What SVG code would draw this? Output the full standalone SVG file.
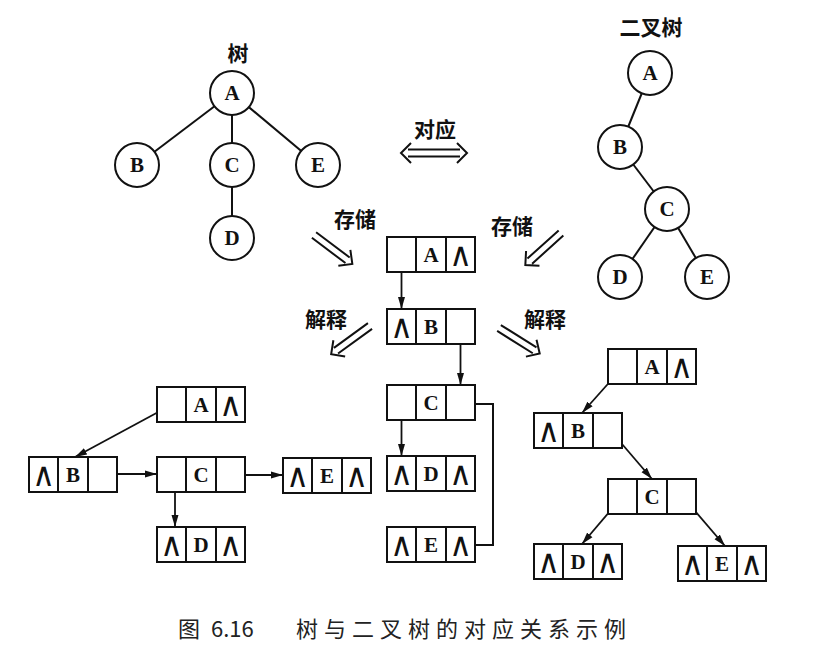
<svg xmlns="http://www.w3.org/2000/svg" width="833" height="651" viewBox="0 0 833 651">
<style>
.circ{fill:#fff;stroke:#111;stroke-width:2}
.edge{stroke:#111;stroke-width:2;fill:none}
.box{fill:#fff;stroke:#111;stroke-width:2}
.div{stroke:#111;stroke-width:2}
.lt{font-family:"Liberation Serif",serif;font-weight:bold;font-size:21px;fill:#111;text-anchor:middle;dominant-baseline:central}
.nil{font-family:"DejaVu Sans",sans-serif;font-size:23px;fill:#111;text-anchor:middle;dominant-baseline:central}
.cn{font-family:"Noto Sans CJK SC",sans-serif;font-weight:bold;font-size:21px;fill:#111;text-anchor:middle}
.cap{font-family:"Noto Sans CJK SC",sans-serif;font-size:22px;fill:#222}
.ptr{stroke:#111;stroke-width:1.8;fill:none;marker-end:url(#ah)}
.dbl{stroke:#111;stroke-width:2;fill:none}
</style>
<defs>
<marker id="ah" viewBox="0 0 12 8" refX="12" refY="4" markerWidth="12" markerHeight="8" markerUnits="userSpaceOnUse" orient="auto">
<path d="M0,0.5 L12,4 L0,7.5 z" fill="#111"/>
</marker>
<g id="darr">
<path class="dbl" d="M0,-3.5 H42 M0,3.5 H42 M38,-10 L48,0 L38,10"/>
</g>
<g id="cells">
<rect class="box" x="0" y="0" width="88" height="35"/>
<line class="div" x1="29" y1="0" x2="29" y2="35"/>
<line class="div" x1="59" y1="0" x2="59" y2="35"/>
</g>
</defs>
<rect width="833" height="651" fill="#fff"/>

<!-- labels -->
<text class="cn" x="238" y="61">树</text>
<text class="cn" x="651" y="35">二叉树</text>
<text class="cn" x="435" y="137">对应</text>
<text class="cn" x="355" y="227">存储</text>
<text class="cn" x="512" y="234">存储</text>
<text class="cn" x="326" y="327">解释</text>
<text class="cn" x="545" y="327">解释</text>

<!-- big double arrows -->
<g id="arrows-big">
<path class="dbl" d="M408,149.5 H460 M408,156.5 H460 M411,143 L401,153 L411,163 M457,143 L467,153 L457,163"/>
<use href="#darr" transform="translate(314,235) rotate(37)"/>
<use href="#darr" transform="translate(561,233) rotate(138)"/>
<use href="#darr" transform="translate(370,326) rotate(144)"/>
<use href="#darr" transform="translate(499,328) rotate(32)"/>
</g>

<!-- tree edges -->
<g id="connectors">
<line class="edge" x1="232" y1="93" x2="137" y2="165"/>
<line class="edge" x1="232" y1="93" x2="232" y2="165"/>
<line class="edge" x1="232" y1="93" x2="318" y2="165"/>
<line class="edge" x1="232" y1="165" x2="232" y2="238"/>
<line class="edge" x1="650" y1="73" x2="620" y2="147"/>
<line class="edge" x1="620" y1="147" x2="667" y2="209"/>
<line class="edge" x1="667" y1="209" x2="620" y2="277"/>
<line class="edge" x1="667" y1="209" x2="707" y2="277"/>
<!-- middle list -->
<line class="ptr" x1="401.5" y1="255" x2="401.5" y2="309"/>
<line class="ptr" x1="460.5" y1="330" x2="460.5" y2="385"/>
<line class="ptr" x1="401.5" y1="405" x2="401.5" y2="456"/>
<path class="edge" d="M465,404 H493 V545 H475"/>
<!-- left list -->
<line class="ptr" x1="175" y1="403" x2="75" y2="457"/>
<line class="ptr" x1="106" y1="474" x2="157" y2="474"/>
<line class="ptr" x1="175" y1="475" x2="175" y2="527"/>
<line class="ptr" x1="233" y1="475" x2="283" y2="475"/>
<!-- right list -->
<line class="ptr" x1="623" y1="367" x2="582" y2="413"/>
<line class="ptr" x1="610" y1="430" x2="652" y2="479"/>
<line class="ptr" x1="622" y1="497" x2="582" y2="544"/>
<line class="ptr" x1="683" y1="497" x2="725" y2="546"/>
</g>

<!-- tree nodes -->
<g id="t-A"><circle class="circ" cx="232" cy="93" r="22"/><text class="lt" x="232" y="93">A</text></g>
<g id="t-B"><circle class="circ" cx="137" cy="165" r="22"/><text class="lt" x="137" y="165">B</text></g>
<g id="t-C"><circle class="circ" cx="232" cy="165" r="22"/><text class="lt" x="232" y="165">C</text></g>
<g id="t-E"><circle class="circ" cx="318" cy="165" r="22"/><text class="lt" x="318" y="165">E</text></g>
<g id="t-D"><circle class="circ" cx="232" cy="238" r="22"/><text class="lt" x="232" y="238">D</text></g>

<g id="b-A"><circle class="circ" cx="650" cy="73" r="22"/><text class="lt" x="650" y="73">A</text></g>
<g id="b-B"><circle class="circ" cx="620" cy="147" r="22"/><text class="lt" x="620" y="147">B</text></g>
<g id="b-C"><circle class="circ" cx="667" cy="209" r="22"/><text class="lt" x="667" y="209">C</text></g>
<g id="b-D"><circle class="circ" cx="620" cy="277" r="22"/><text class="lt" x="620" y="277">D</text></g>
<g id="b-E"><circle class="circ" cx="707" cy="277" r="22"/><text class="lt" x="707" y="277">E</text></g>

<!-- middle list nodes -->
<g id="m-A" transform="translate(387,237)"><use href="#cells"/><text class="lt" x="44" y="18">A</text><text class="nil" transform="translate(73.5,18) scale(1.35,1.45)">∧</text></g>
<g id="m-B" transform="translate(387,309)"><use href="#cells"/><text class="nil" transform="translate(14.5,18) scale(1.35,1.45)">∧</text><text class="lt" x="44" y="18">B</text></g>
<g id="m-C" transform="translate(387,385)"><use href="#cells"/><text class="lt" x="44" y="18">C</text></g>
<g id="m-D" transform="translate(387,456)"><use href="#cells"/><text class="nil" transform="translate(14.5,18) scale(1.35,1.45)">∧</text><text class="lt" x="44" y="18">D</text><text class="nil" transform="translate(73.5,18) scale(1.35,1.45)">∧</text></g>
<g id="m-E" transform="translate(387,527)"><use href="#cells"/><text class="nil" transform="translate(14.5,18) scale(1.35,1.45)">∧</text><text class="lt" x="44" y="18">E</text><text class="nil" transform="translate(73.5,18) scale(1.35,1.45)">∧</text></g>

<!-- left list nodes -->
<g id="l-A" transform="translate(157,387)"><use href="#cells"/><text class="lt" x="44" y="18">A</text><text class="nil" transform="translate(73.5,18) scale(1.35,1.45)">∧</text></g>
<g id="l-B" transform="translate(29,457)"><use href="#cells"/><text class="nil" transform="translate(14.5,18) scale(1.35,1.45)">∧</text><text class="lt" x="44" y="18">B</text></g>
<g id="l-C" transform="translate(157,457)"><use href="#cells"/><text class="lt" x="44" y="18">C</text></g>
<g id="l-E" transform="translate(283,458)"><use href="#cells"/><text class="nil" transform="translate(14.5,18) scale(1.35,1.45)">∧</text><text class="lt" x="44" y="18">E</text><text class="nil" transform="translate(73.5,18) scale(1.35,1.45)">∧</text></g>
<g id="l-D" transform="translate(157,527)"><use href="#cells"/><text class="nil" transform="translate(14.5,18) scale(1.35,1.45)">∧</text><text class="lt" x="44" y="18">D</text><text class="nil" transform="translate(73.5,18) scale(1.35,1.45)">∧</text></g>

<!-- right list nodes -->
<g id="r-A" transform="translate(608,349)"><use href="#cells"/><text class="lt" x="44" y="18">A</text><text class="nil" transform="translate(73.5,18) scale(1.35,1.45)">∧</text></g>
<g id="r-B" transform="translate(534,413)"><use href="#cells"/><text class="nil" transform="translate(14.5,18) scale(1.35,1.45)">∧</text><text class="lt" x="44" y="18">B</text></g>
<g id="r-C" transform="translate(608,479)"><use href="#cells"/><text class="lt" x="44" y="18">C</text></g>
<g id="r-D" transform="translate(534,544)"><use href="#cells"/><text class="nil" transform="translate(14.5,18) scale(1.35,1.45)">∧</text><text class="lt" x="44" y="18">D</text><text class="nil" transform="translate(73.5,18) scale(1.35,1.45)">∧</text></g>
<g id="r-E" transform="translate(678,546)"><use href="#cells"/><text class="nil" transform="translate(14.5,18) scale(1.35,1.45)">∧</text><text class="lt" x="44" y="18">E</text><text class="nil" transform="translate(73.5,18) scale(1.35,1.45)">∧</text></g>

<!-- caption -->
<text class="cap" y="637"><tspan x="178">图</tspan><tspan x="211">6.16</tspan><tspan x="296" letter-spacing="6">树与二叉树的对应关系示例</tspan></text>
</svg>
